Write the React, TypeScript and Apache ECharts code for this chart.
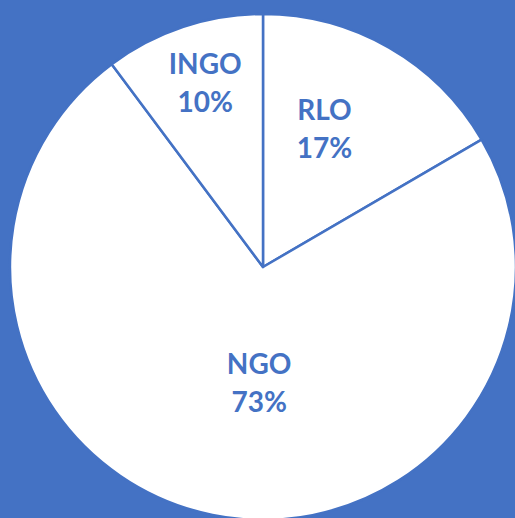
import React, { useEffect, useRef } from "react";
import * as echarts from "echarts";

const categories = ["RLO", "NGO", "INGO"];
const values = [16.6, 73.2, 10.2];
// label nudges (px) from ECharts' default inside position
const labelDx = [-3, 22, -17];
const labelDy = [-27, -12, -62];

const BLUE = "#4472C4";

export default function App() {
  const ref = useRef<HTMLDivElement>(null);
  useEffect(() => {
    if (!ref.current) return;
    const chart = echarts.init(ref.current, undefined, { renderer: "svg" });
    chart.setOption({
      animation: false,
      backgroundColor: BLUE,
      series: [
        {
          type: "pie",
          center: [263, 267],
          radius: 253,
          startAngle: 90,
          clockwise: true,
          percentPrecision: 0,
          data: categories.map((c, i) => ({ name: c, value: values[i] })),
          itemStyle: { color: "#ffffff", borderColor: BLUE, borderWidth: 2.5 },
          label: {
            show: true,
            position: "inside",
            formatter: "{b}\n{d}%",
            color: BLUE,
            fontFamily: "Lato, 'Noto Sans', sans-serif",
            fontWeight: "bold",
            fontSize: 28,
            lineHeight: 38,
            align: "center",
          },
          labelLine: { show: false },
          labelLayout: (params: any) => ({
            dx: labelDx[params.dataIndex],
            dy: labelDy[params.dataIndex],
          }),
          emphasis: { disabled: true },
        },
      ],
    });
    return () => chart.dispose();
  }, []);
  return (
    <div
      ref={ref}
      style={{ position: "absolute", left: 0, top: 0, width: 515, height: 518 }}
    />
  );
}
